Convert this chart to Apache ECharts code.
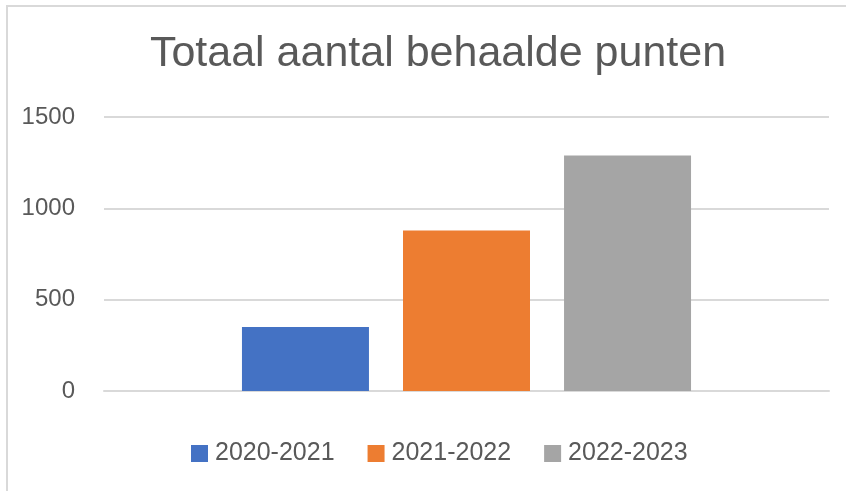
<!DOCTYPE html>
<html>
<head>
<meta charset="utf-8">
<script src="https://cdn.jsdelivr.net/npm/echarts@6/dist/echarts.min.js"></script>
<style>
html,body{margin:0;padding:0;background:#fff;}
#frame{position:absolute;left:6px;top:5px;width:900px;height:600px;border-left:2px solid #d9d9d9;border-top:2px solid #d9d9d9;}
#chart{position:absolute;left:0;top:0;width:846px;height:491px;}
</style>
</head>
<body>
<div id="frame"></div>
<div id="chart"></div>
<script>
var titleText = 'Totaal aantal behaalde punten';
var categories = [''];
var seriesNames = ['2020-2021', '2021-2022', '2022-2023'];
var seriesValues = [351, 878, 1289];
var seriesColors = ['#4472c4', '#ed7d31', '#a5a5a5'];
var yTicks = { min: 0, max: 1500, interval: 500 };

var chart = echarts.init(document.getElementById('chart'), null, { renderer: 'canvas' });
var font = 'Liberation Sans, Arial, sans-serif';
var series = seriesNames.map(function (n, i) {
  return {
    name: n,
    type: 'bar',
    data: [seriesValues[i]],
    barWidth: 127,
    barGap: '26.8%',
    itemStyle: { color: seriesColors[i] },
    emphasis: { disabled: true }
  };
});
chart.setOption({
  animation: false,
  title: {
    text: titleText,
    left: 433,
    textAlign: 'center',
    top: 28,
    textStyle: { fontFamily: font, fontSize: 43, fontWeight: 'normal', color: '#595959' }
  },
  legend: {
    data: seriesNames,
    left: 186,
    top: 436,
    icon: 'rect',
    itemWidth: 17,
    itemHeight: 17,
    itemGap: 33,
    textStyle: { fontFamily: font, fontSize: 25, color: '#595959', padding: [0, 0, 0, 2] }
  },
  grid: { left: 104, right: 17, top: 117, bottom: 100, containLabel: false },
  xAxis: {
    type: 'category',
    data: categories,
    axisLine: { show: true, lineStyle: { color: '#d9d9d9', width: 2 } },
    axisTick: { show: false },
    axisLabel: { show: false }
  },
  yAxis: {
    type: 'value',
    min: yTicks.min,
    max: yTicks.max,
    interval: yTicks.interval,
    axisLine: { show: false },
    axisTick: { show: false },
    axisLabel: { margin: 29, fontFamily: font, fontSize: 24, color: '#595959', formatter: function (v) { return String(v); } },
    splitLine: { lineStyle: { color: '#d9d9d9', width: 2 } }
  },
  series: series
});
</script>
</body>
</html>
